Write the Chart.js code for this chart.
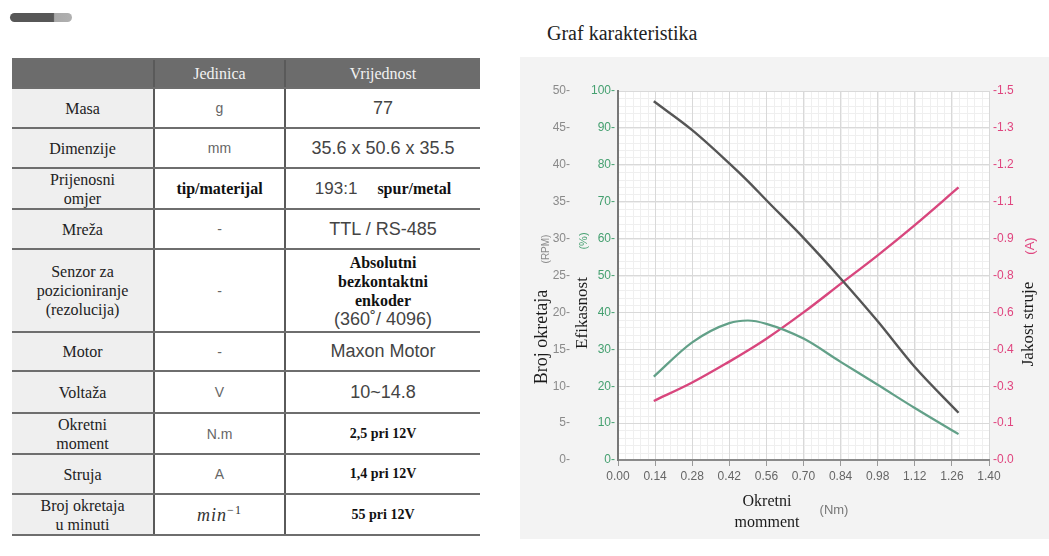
<!DOCTYPE html>
<html>
<head>
<meta charset="utf-8">
<title>Graf karakteristika</title>
<script src="https://cdn.jsdelivr.net/npm/chart.js@4.4.1/dist/chart.umd.min.js"></script>
<style>
    html, body { margin: 0; padding: 0; background: #fff; width: 1049px; height: 556px; overflow: hidden; }
    .pill { position: absolute; left: 10px; top: 13px; width: 62px; height: 9px; border-radius: 5px;
        background: linear-gradient(to right, #575757 0, #575757 70%, #a9a9a9 72%, #b0b0b0 100%); }
    table.spec { position: absolute; left: 12px; top: 58px; width: 468px; border-collapse: collapse; table-layout: fixed; }
    .spec td, .spec th { padding: 0; text-align: center; vertical-align: middle;
        border-top: 2px solid #6e6e6e; border-bottom: 2px solid #6e6e6e; }
    .spec td + td, .spec th + th { border-left: 2px solid #5a5a5a; }
    .spec th { background: #6c6c6c; color: #f2f2f2; font: normal 16px 'Liberation Serif', serif; height: 27px; }
    .spec td.n { background: #efefef; font: 16px/19px 'Liberation Serif', serif; color: #222; }
    .spec td.u { font: 14px 'Liberation Sans', Arial, sans-serif; color: #666; }
    .spec td.v { font: 18px 'Liberation Sans', Arial, sans-serif; color: #444; }
    .b { font: bold 16px/19px 'Liberation Serif', serif; color: #111; }
    .s { font: bold 14px 'Liberation Serif', serif; color: #111; }
    .mi { font: italic 18px 'Liberation Serif', serif; color: #333; letter-spacing: 1px; }
    .mi sup { font-size: 12px; font-style: normal; }
    .graf-title { position: absolute; left: 547px; top: 21px; font: 20px/24px 'Liberation Serif', serif; color: #222; }
    .panel { position: absolute; left: 520px; top: 57px; width: 529px; height: 482px; background: #f3f3f3; }
</style>
</head>
<body>
<div class="pill"></div>

<table class="spec">
    <colgroup><col style="width:142px"><col style="width:131px"><col style="width:195px"></colgroup>
    <tr><th></th><th>Jedinica</th><th>Vrijednost</th></tr>
    <tr style="height:40px"><td class="n">Masa</td><td class="u">g</td><td class="v">77</td></tr>
    <tr style="height:40px"><td class="n">Dimenzije</td><td class="u">mm</td><td class="v">35.6 x 50.6 x 35.5</td></tr>
    <tr style="height:41px"><td class="n">Prijenosni<br>omjer</td><td class="b">tip/materijal</td>
        <td class="v"><span style="font-size:17px">193:1</span>&nbsp;&nbsp;&nbsp;&nbsp;<span class="b">spur/metal</span></td></tr>
    <tr style="height:40px"><td class="n">Mreža</td><td class="u">-</td><td class="v">TTL / RS-485</td></tr>
    <tr style="height:83px"><td class="n">Senzor za<br>pozicioniranje<br>(rezolucija)</td><td class="u">-</td>
        <td class="v"><div class="b">Absolutni<br>bezkontaktni<br>enkoder</div><div style="line-height:18px">(360˚/ 4096)</div></td></tr>
    <tr style="height:39px"><td class="n">Motor</td><td class="u">-</td><td class="v">Maxon Motor</td></tr>
    <tr style="height:42px"><td class="n">Voltaža</td><td class="u">V</td><td class="v">10~14.8</td></tr>
    <tr style="height:41px"><td class="n">Okretni<br>moment</td><td class="u">N.m</td><td class="s">2,5 pri 12V</td></tr>
    <tr style="height:40px"><td class="n">Struja</td><td class="u">A</td><td class="s">1,4 pri 12V</td></tr>
    <tr style="height:41px"><td class="n">Broj okretaja<br>u minuti</td><td><span class="mi">min<sup>−1</sup></span></td><td class="s">55 pri 12V</td></tr>
</table>

<div class="graf-title">Graf karakteristika</div>
<div class="panel"><canvas id="graf" width="529" height="482"></canvas></div>

<script>
// values
const torque     = [0.135, 0.28, 0.42, 0.49, 0.56, 0.70, 0.84, 0.98, 1.12, 1.285];
const rpm        = [48.6, 44.7, 40.2, 37.8, 35.2, 30.1, 24.6, 18.8, 12.6, 6.4];
const efficiency = [22.6, 31.9, 37.1, 37.8, 36.9, 32.9, 26.6, 20.4, 14.1, 7.0];
const current    = [0.24, 0.315, 0.40, 0.445, 0.493, 0.60, 0.716, 0.832, 0.955, 1.108];

// axis ticks
const torqueTicks = [0, 0.14, 0.28, 0.42, 0.56, 0.70, 0.84, 0.98, 1.12, 1.26, 1.40];
const rpmTicks = [0, 5, 10, 15, 20, 25, 30, 35, 40, 45, 50];
const effTicks = [0, 10, 20, 30, 40, 50, 60, 70, 80, 90, 100];
const currentTicks = [0, 0.15, 0.3, 0.45, 0.6, 0.75, 0.9, 1.05, 1.2, 1.35, 1.5];
const currentTickLabels = ['0.0', '0.1', '0.3', '0.4', '0.6', '0.8', '0.9', '1.1', '1.2', '1.3', '1.5'];

const serif = "'Liberation Serif', 'Times New Roman', serif";
const sans = "'Liberation Sans', Arial, sans-serif";

Chart.defaults.font.family = sans;
Chart.defaults.font.size = 12;

function toPoints(ys) {
    return torque.map((t, i) => ({ x: t, y: ys[i] }));
}

function setTicks(values) {
    return function (scale) {
        scale.ticks = values.map(v => ({ value: v }));
    };
}

function vText(ctx, text, x, y, font, color) {
    ctx.save();
    ctx.translate(x, y);
    ctx.rotate(-Math.PI / 2);
    ctx.font = font;
    ctx.fillStyle = color;
    ctx.textAlign = 'center';
    ctx.textBaseline = 'middle';
    ctx.fillText(text, 0, 0);
    ctx.restore();
}

function hText(ctx, text, x, y, font, color) {
    ctx.save();
    ctx.font = font;
    ctx.fillStyle = color;
    ctx.textAlign = 'center';
    ctx.textBaseline = 'middle';
    ctx.fillText(text, x, y);
    ctx.restore();
}

// white plot background, fine grid, and the axis titles
const gridAndTitles = {
    id: 'gridAndTitles',
    beforeDraw(chart) {
        const { ctx, chartArea: a, scales } = chart;
        ctx.save();
        ctx.fillStyle = '#ffffff';
        ctx.fillRect(a.left, a.top, a.right - a.left, a.bottom - a.top);
        ctx.strokeStyle = '#efefef';
        ctx.lineWidth = 1;
        ctx.beginPath();
        for (let i = 1; i < 50; i++) {
            const px = Math.round(scales.x.getPixelForValue(i * 0.028)) + 0.5;
            ctx.moveTo(px, a.top);
            ctx.lineTo(px, a.bottom);
        }
        for (let i = 1; i < 50; i++) {
            const py = Math.round(scales.yEff.getPixelForValue(i * 2)) + 0.5;
            ctx.moveTo(a.left, py);
            ctx.lineTo(a.right, py);
        }
        ctx.stroke();
        ctx.restore();
    },
    afterDraw(chart) {
        const ctx = chart.ctx;
        const a = chart.chartArea;
        vText(ctx, 'Broj okretaja', a.left - 76, 280, '18px ' + serif, '#1a1a1a');
        vText(ctx, '(RPM)', a.left - 72, 192, '10px ' + sans, '#8a8a8a');
        vText(ctx, 'Efikasnost', a.left - 35, 256, '17px ' + serif, '#1a1a1a');
        vText(ctx, '(%)', a.left - 34, 184, '11px ' + sans, '#45a070');
        vText(ctx, 'Jakost struje', a.right + 40, 267, '17px ' + serif, '#1a1a1a');
        vText(ctx, '(A)', a.right + 41, 189, '13px ' + sans, '#e0457f');
        hText(ctx, 'Okretni', 247, 445, '16px ' + serif, '#1a1a1a');
        hText(ctx, 'momment', 247, 466, '16px ' + serif, '#1a1a1a');
        hText(ctx, '(Nm)', 314, 453, '13px ' + sans, '#777777');
    }
};

const ctx = document.getElementById('graf').getContext('2d');
const grafChart = new Chart(ctx, {
    type: 'line',
    data: {
        datasets: [{
            label: 'Broj okretaja (RPM)',
            data: toPoints(rpm),
            yAxisID: 'yRpm',
            borderColor: '#555555',
            borderWidth: 2.4,
            pointRadius: 0,
            cubicInterpolationMode: 'monotone'
        }, {
            label: 'Efikasnost (%)',
            data: toPoints(efficiency),
            yAxisID: 'yEff',
            borderColor: '#62a088',
            borderWidth: 2.2,
            pointRadius: 0,
            cubicInterpolationMode: 'monotone'
        }, {
            label: 'Jakost struje (A)',
            data: toPoints(current),
            yAxisID: 'yCur',
            borderColor: '#d8467d',
            borderWidth: 2.4,
            pointRadius: 0,
            cubicInterpolationMode: 'monotone'
        }]
    },
    options: {
        responsive: false,
        animation: false,
        events: [],
        layout: {
            padding: { top: 34, left: 0, right: 0, bottom: 0 }
        },
        plugins: {
            legend: { display: false },
            tooltip: { enabled: false }
        },
        scales: {
            x: {
                type: 'linear',
                position: 'bottom',
                min: 0,
                max: 1.4,
                afterBuildTicks: setTicks(torqueTicks),
                afterFit(scale) { scale.height = 79; },
                ticks: {
                    autoSkip: false,
                    maxRotation: 0,
                    padding: 3,
                    color: '#666666',
                    callback: v => v.toFixed(2)
                },
                grid: { color: '#d9d9d9', tickColor: '#999999', tickLength: 6 },
                border: { color: '#8a8a8a', width: 2 }
            },
            yEff: {
                position: 'left',
                weight: 1,
                min: 0,
                max: 100,
                afterBuildTicks: setTicks(effTicks),
                afterFit(scale) { scale.width = 46; },
                ticks: {
                    padding: 3,
                    color: '#45a070',
                    callback: v => v + '-'
                },
                grid: { color: '#d9d9d9', drawTicks: false },
                border: { color: '#777777', width: 2 }
            },
            yRpm: {
                position: 'left',
                weight: 2,
                min: 0,
                max: 50,
                afterBuildTicks: setTicks(rpmTicks),
                afterFit(scale) { scale.width = 52; },
                ticks: {
                    padding: 2,
                    color: '#8a8a8a',
                    callback: v => v + '-'
                },
                grid: { display: false, drawTicks: false },
                border: { display: false }
            },
            yCur: {
                position: 'right',
                min: 0,
                max: 1.5,
                afterBuildTicks: setTicks(currentTicks),
                afterFit(scale) { scale.width = 60; },
                ticks: {
                    padding: 4,
                    color: '#e0457f',
                    callback: (v, i) => '-' + currentTickLabels[i]
                },
                grid: { display: false, drawTicks: false },
                border: { display: false }
            }
        }
    },
    plugins: [gridAndTitles]
});
</script>
</body>
</html>
